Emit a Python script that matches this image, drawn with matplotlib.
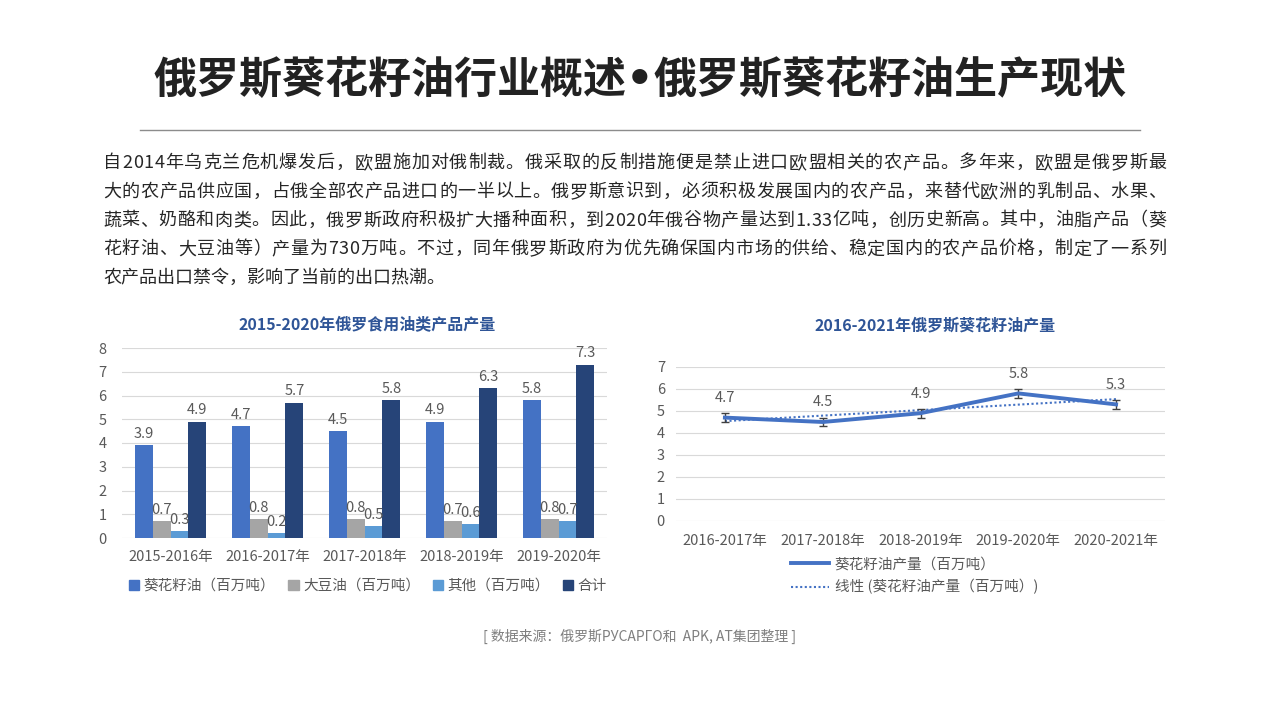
import matplotlib
matplotlib.use("Agg")
import matplotlib.pyplot as plt
import numpy as np
from matplotlib.font_manager import FontProperties
from matplotlib.lines import Line2D
from matplotlib.patches import Patch

plt.rcParams["font.family"] = ["Noto Sans CJK SC", "DejaVu Sans"]

# ---- data ----
title_parts = ["俄罗斯葵花籽油行业概述", "•", "俄罗斯葵花籽油生产现状"]
paragraph = [
    "自2014年乌克兰危机爆发后，欧盟施加对俄制裁。俄采取的反制措施便是禁止进口欧盟相关的农产品。多年来，欧盟是俄罗斯最",
    "大的农产品供应国，占俄全部农产品进口的一半以上。俄罗斯意识到，必须积极发展国内的农产品，来替代欧洲的乳制品、水果、",
    "蔬菜、奶酪和肉类。因此，俄罗斯政府积极扩大播种面积，到2020年俄谷物产量达到1.33亿吨，创历史新高。其中，油脂产品（葵",
    "花籽油、大豆油等）产量为730万吨。不过，同年俄罗斯政府为优先确保国内市场的供给、稳定国内的农产品价格，制定了一系列",
    "农产品出口禁令，影响了当前的出口热潮。",
]
source = "[ 数据来源：俄罗斯РУСАРГО和  APK, AT集团整理 ]"

bar_title = "2015-2020年俄罗食用油类产品产量"
bar_years = ["2015-2016年", "2016-2017年", "2017-2018年", "2018-2019年", "2019-2020年"]
bar_names = ["葵花籽油（百万吨）", "大豆油（百万吨）", "其他（百万吨）", "合计"]
sunflower = [3.9, 4.7, 4.5, 4.9, 5.8]
soybean = [0.7, 0.8, 0.8, 0.7, 0.8]
other = [0.3, 0.2, 0.5, 0.6, 0.7]
total = [4.9, 5.7, 5.8, 6.3, 7.3]

line_title = "2016-2021年俄罗斯葵花籽油产量"
line_years = ["2016-2017年", "2017-2018年", "2018-2019年", "2019-2020年", "2020-2021年"]
line_names = ["葵花籽油产量（百万吨）", "线性 (葵花籽油产量（百万吨）)"]
sun_output = [4.7, 4.5, 4.9, 5.8, 5.3]
sun_err = 0.2

# ---- style ----
W, H = 1280, 720
gray_txt = "#595959"
grid_c = "#D9D9D9"
bar_colors = ["#4472C4", "#A5A5A5", "#5B9BD5", "#264478"]
chart_title_c = "#2F5597"

fig = plt.figure(figsize=(12.8, 7.2), dpi=100)
renderer = fig.canvas.get_renderer()


def fx(px):
    return px / W


def fy(py):
    return 1 - py / H


def text_width(s, fp):
    return renderer.get_text_width_height_descent(s, fp, ismath=False)[0]


def justified(text, x0, x1, y, size, color):
    fp = FontProperties(family=["Noto Sans CJK SC"], size=size)
    widths = [text_width(c, fp) for c in text]
    gap = ((x1 - x0) - sum(widths)) / (len(text) - 1)
    x = x0
    for c, w in zip(text, widths):
        fig.text(fx(x), fy(y), c, fontsize=size, color=color, va="center", ha="left")
        x += w + gap


# header: title drawn in pieces so the bullet stays narrow
t_size = 31
fp_cjk = FontProperties(family=["Noto Sans CJK SC"], size=t_size, weight="bold")
fp_dot = FontProperties(family=["DejaVu Sans"], size=t_size, weight="bold")
widths = [text_width(title_parts[0], fp_cjk), text_width(title_parts[1], fp_dot),
          text_width(title_parts[2], fp_cjk)]
x = (W - sum(widths)) / 2
for part, w, fp in zip(title_parts, widths, [fp_cjk, fp_dot, fp_cjk]):
    fig.text(fx(x), fy(80), part, fontproperties=fp, color="#222222", ha="left", va="center")
    x += w
fig.add_artist(Line2D([fx(140), fx(1140)], [fy(130), fy(130)], color="#8C8C8C", lw=1))

for i, line in enumerate(paragraph):
    y = 163 + i * 28.75
    if i < len(paragraph) - 1:
        justified(line, 103, 1166, y, 13, "#262626")
    else:
        fig.text(fx(103), fy(y), line, fontsize=13, color="#262626", va="center", ha="left")

fig.text(0.5, fy(636), source, fontsize=10, color="#7F7F7F", ha="center", va="center")

# ---- left: grouped bars ----
ax1 = fig.add_axes([fx(122), fy(538), fx(607 - 122), (538 - 348) / H])
x = np.arange(len(bar_years))
w = 0.185
series = [sunflower, soybean, other, total]
for k, (vals, col) in enumerate(zip(series, bar_colors)):
    bars = ax1.bar(x + (k - 1.5) * w, vals, width=w, color=col, zorder=3)
    for b, v in zip(bars, vals):
        ax1.annotate(f"{v}", (b.get_x() + b.get_width() / 2, v), xytext=(0, 3),
                     textcoords="offset points", ha="center", va="bottom",
                     fontsize=10.5, color=gray_txt, zorder=4)
ax1.set_xlim(-0.5, len(bar_years) - 0.5)
ax1.set_ylim(0, 8)
ax1.set_yticks(range(0, 9))
ax1.set_xticks(x)
ax1.set_xticklabels(bar_years)
ax1.grid(axis="y", color=grid_c, lw=0.8, zorder=0)
for s in ax1.spines.values():
    s.set_visible(False)
ax1.tick_params(axis="y", length=0, pad=11, labelsize=10.5, labelcolor=gray_txt)
ax1.tick_params(axis="x", length=0, pad=9, labelsize=10.5, labelcolor=gray_txt)
fig.text(fx(367), fy(325), bar_title, fontsize=11.5, fontweight="bold", color=chart_title_c,
         ha="center", va="center")
handles = [Patch(color=c) for c in bar_colors]
fig.legend(handles, bar_names, loc="center", bbox_to_anchor=(fx(368), fy(586)), ncol=4,
           frameon=False, handlelength=0.7, handleheight=0.7, handletextpad=0.3,
           columnspacing=0.9, prop={"size": 10.5}, labelcolor=gray_txt)

# ---- right: line with trend ----
ax2 = fig.add_axes([fx(676), fy(521), fx(1165 - 676), (521 - 367) / H])
xl = np.arange(len(line_years))
coef = np.polyfit(xl, sun_output, 1)
trend = np.polyval(coef, xl)
ax2.plot(xl, trend, color="#4472C4", lw=1.5, ls=(0, (1, 1.2)), zorder=3)
ax2.errorbar(xl, sun_output, yerr=sun_err, color="#4472C4", lw=2.8, ecolor="#404040",
             elinewidth=1, capsize=3, capthick=1, zorder=4)
for xi, v in zip(xl, sun_output):
    ax2.annotate(f"{v}", (xi, v), xytext=(0, 9), textcoords="offset points", ha="center",
                 va="bottom", fontsize=10.5, color=gray_txt)
ax2.set_xlim(-0.5, len(line_years) - 0.5)
ax2.set_ylim(0, 7)
ax2.set_yticks(range(0, 8))
ax2.set_xticks(xl)
ax2.set_xticklabels(line_years)
ax2.grid(axis="y", color=grid_c, lw=0.8, zorder=0)
for s in ax2.spines.values():
    s.set_visible(False)
ax2.tick_params(axis="y", length=0, pad=8, labelsize=10.5, labelcolor=gray_txt)
ax2.tick_params(axis="x", length=0, pad=9, labelsize=10.5, labelcolor=gray_txt)
fig.text(fx(935), fy(325), line_title, fontsize=11.5, fontweight="bold", color=chart_title_c,
         ha="center", va="center")
lh = [Line2D([], [], color="#4472C4", lw=2.8),
      Line2D([], [], color="#4472C4", lw=1.5, ls=(0, (1, 1.2)))]
fig.legend(lh, line_names, loc="center left", bbox_to_anchor=(fx(778), fy(576)), ncol=1,
           frameon=False, handlelength=2.6, handletextpad=0.4, labelspacing=0.55,
           prop={"size": 10.5}, labelcolor=gray_txt)

fig.savefig("out.png", dpi=100)
